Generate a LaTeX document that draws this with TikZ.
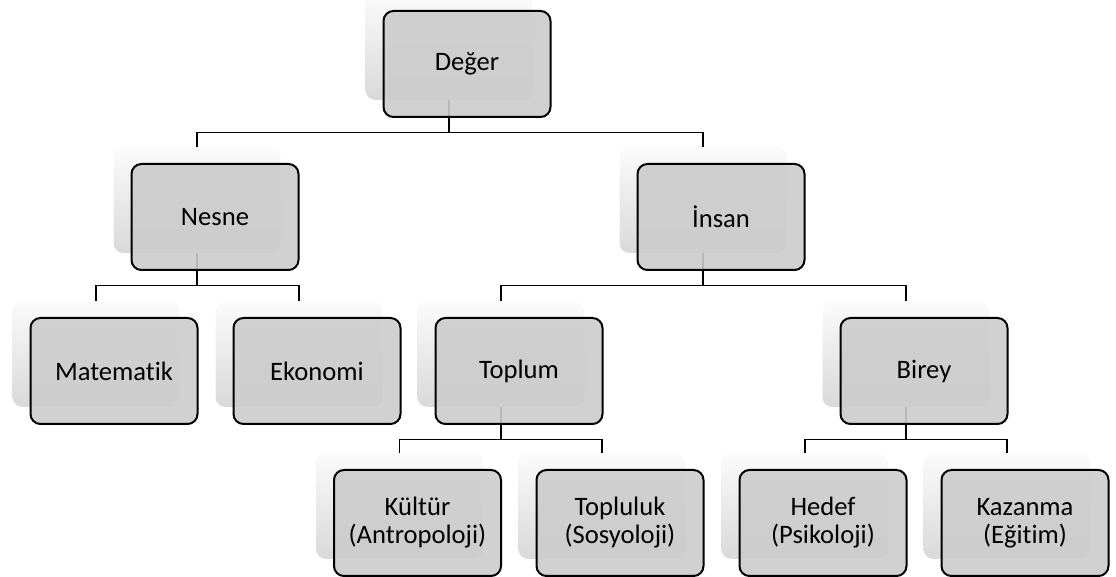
\documentclass[tikz,border=0pt]{standalone}
\usepackage{fontspec}
\setmainfont{Carlito}[Ligatures=NoCommon]
\usepackage{tikz}

\begin{document}
\begin{tikzpicture}[x=0.5pt,y=-0.5pt,
back/.style={rectangle,rounded corners=5pt,minimum width=83.5pt,minimum height=53pt,inner sep=0pt,
  top color=gray!3,bottom color=gray!30,draw=none},
front/.style={rectangle,rounded corners=5pt,minimum width=83.5pt,minimum height=53pt,inner sep=0pt,
  draw=black,line width=1pt,fill=black!20,fill opacity=0.9,text opacity=1,align=center,
  font=\fontsize{13.3}{14}\selectfont},
conn/.style={line width=0.75pt,black}
]
\useasboundingbox (0,0) rectangle (1116,577);
% back boxes
\node[back] (deger) at (449,47) {};
\node[back] (nesne) at (197,200) {};
\node[back] (insan) at (703,200) {};
\node[back] (matematik) at (96,354) {};
\node[back] (ekonomi) at (299,354) {};
\node[back] (toplum) at (501,354) {};
\node[back] (birey) at (906,354) {};
\node[back] (kultur) at (399.5,506) {};
\node[back] (topluluk) at (602,506) {};
\node[back] (hedef) at (805,506) {};
\node[back] (kazanma) at (1007,506) {};
% connectors
\draw[conn] (deger.south) -- ++(0,32) -| (nesne.north);
\draw[conn] (deger.south) -- ++(0,32) -| (insan.north);
\draw[conn] (nesne.south) -- ++(0,32) -| (matematik.north);
\draw[conn] (nesne.south) -- ++(0,32) -| (ekonomi.north);
\draw[conn] (insan.south) -- ++(0,32) -| (toplum.north);
\draw[conn] (insan.south) -- ++(0,32) -| (birey.north);
\draw[conn] (toplum.south) -- ++(0,32) -| (kultur.north);
\draw[conn] (toplum.south) -- ++(0,32) -| (topluluk.north);
\draw[conn] (birey.south) -- ++(0,32) -| (hedef.north);
\draw[conn] (birey.south) -- ++(0,32) -| (kazanma.north);
% front boxes
\node[front] (deger-f) at ([shift={(18,17)}]deger) {Değer};
\node[front] (nesne-f) at ([shift={(18,17)}]nesne) {Nesne};
\node[front] (insan-f) at ([shift={(18,17)}]insan) {İnsan};
\node[front] (matematik-f) at ([shift={(18,17)}]matematik) {Matematik};
\node[front] (ekonomi-f) at ([shift={(18,17)}]ekonomi) {Ekonomi};
\node[front] (toplum-f) at ([shift={(18,17)}]toplum) {Toplum};
\node[front] (birey-f) at ([shift={(18,17)}]birey) {Birey};
\node[front] (kultur-f) at ([shift={(18,17)}]kultur) {Kültür\\(Antropoloji)};
\node[front] (topluluk-f) at ([shift={(18,17)}]topluluk) {Topluluk\\(Sosyoloji)};
\node[front] (hedef-f) at ([shift={(18,17)}]hedef) {Hedef\\(Psikoloji)};
\node[front] (kazanma-f) at ([shift={(18,17)}]kazanma) {Kazanma\\(Eğitim)};
\end{tikzpicture}
\end{document}
